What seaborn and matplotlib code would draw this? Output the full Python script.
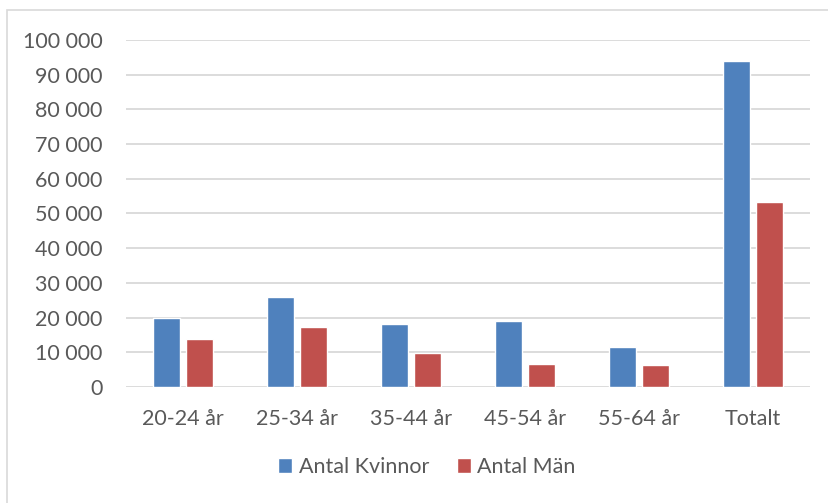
import matplotlib
matplotlib.use("Agg")
import matplotlib.pyplot as plt
import pandas as pd
import seaborn as sns
from matplotlib.patches import Rectangle, Patch
from matplotlib.ticker import FuncFormatter, MultipleLocator

# Data
age_groups = ["20-24 år", "25-34 år", "35-44 år", "45-54 år", "55-64 år", "Totalt"]
women = [19800, 26000, 18200, 19000, 11500, 93900]
men = [13700, 17300, 9800, 6600, 6250, 53300]
series_names = ["Antal Kvinnor", "Antal Män"]
colors = ["#4F81BD", "#C0504D"]

df = pd.DataFrame({
    "group": age_groups * 2,
    "value": women + men,
    "series": [series_names[0]] * len(age_groups) + [series_names[1]] * len(age_groups),
})

sns.set_theme(style="white")
plt.rcParams["font.family"] = ["Lato", "DejaVu Sans"]
text_color = "#595959"
grid_color = "#D9D9D9"

W, H = 829, 503
fig = plt.figure(figsize=(W / 100, H / 100), dpi=100)
fig.patch.set_facecolor("white")

# outer chart frame (partly cropped in the reference)
fig.patches.append(Rectangle((7 / W, -0.1), 1.2, (H - 10) / H + 0.1,
                             transform=fig.transFigure, fill=False,
                             edgecolor=grid_color, linewidth=1.2))

ax = fig.add_axes([126 / W, (H - 387) / H, (810 - 126) / W, (387 - 40) / H])
sns.barplot(data=df, x="group", y="value", hue="series", palette=colors,
            width=0.579, gap=0.21, ax=ax, legend=False, saturation=1)

ax.set_ylim(0, 100000)
ax.yaxis.set_major_locator(MultipleLocator(10000))
ax.yaxis.set_major_formatter(FuncFormatter(lambda v, p: f"{int(v):,}".replace(",", " ")))
ax.set_xlim(-0.5, len(age_groups) - 0.5)
ax.grid(axis="y", color=grid_color, linewidth=1.3)
ax.set_axisbelow(True)
for s in ax.spines.values():
    s.set_visible(False)
ax.set_xlabel("")
ax.set_ylabel("")
ax.tick_params(axis="y", length=0, pad=17, labelsize=15.5, labelcolor=text_color)
ax.tick_params(axis="x", length=0, pad=16, labelsize=15.5, labelcolor=text_color)

handles = [Patch(facecolor=c, label=n) for c, n in zip(colors, series_names)]
fig.legend(handles=handles, loc="center", bbox_to_anchor=(427 / W, (H - 467) / H),
           ncol=2, frameon=False, fontsize=15.5, labelcolor=text_color,
           handlelength=0.65, handleheight=0.65, handletextpad=0.3,
           columnspacing=1.3)

fig.savefig("out.png", dpi=100)
